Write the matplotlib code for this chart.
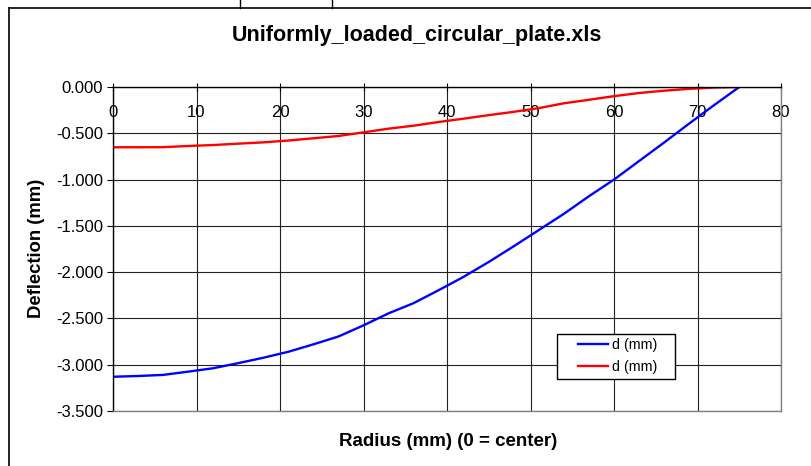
import matplotlib
matplotlib.use("Agg")
import matplotlib.pyplot as plt
from matplotlib.lines import Line2D
from matplotlib.patches import Rectangle

plt.rcParams['font.family'] = ['Liberation Sans', 'DejaVu Sans']

# data (radius in mm, deflection in mm)
radius = [0, 3, 6, 9, 12, 15, 18, 21, 24, 27, 30, 33, 36, 39, 42, 45, 48,
          51, 54, 57, 60, 63, 66, 69, 72, 75]
d_blue = [-3.130, -3.122, -3.110, -3.075, -3.038, -2.983, -2.925, -2.860,
          -2.780, -2.695, -2.575, -2.445, -2.335, -2.195, -2.050, -1.890,
          -1.720, -1.545, -1.370, -1.180, -1.000, -0.800, -0.600, -0.395,
          -0.195, 0.0]
d_red = [-0.651, -0.651, -0.650, -0.637, -0.627, -0.612, -0.598, -0.578,
         -0.554, -0.529, -0.490, -0.450, -0.418, -0.378, -0.342, -0.304,
         -0.268, -0.228, -0.176, -0.138, -0.099, -0.065, -0.040, -0.020,
         -0.006, 0.0]
x_ticks = [0, 10, 20, 30, 40, 50, 60, 70, 80]
y_ticks = [0.0, -0.5, -1.0, -1.5, -2.0, -2.5, -3.0, -3.5]

W, H = 812, 466
fig = plt.figure(figsize=(W / 100, H / 100), dpi=100)
ax = fig.add_axes([113 / W, 1 - 411 / H, (781 - 113) / W, (411 - 87) / H])

ax.plot(radius, d_blue, color='#0000ff', lw=1.7, label='d (mm)')
ax.plot(radius, d_red, color='#ff0000', lw=1.7, label='d (mm)')

ax.set_xlim(0, 80)
ax.set_ylim(-3.5, 0)
ax.set_xticks(x_ticks)
ax.set_yticks(y_ticks)
ax.set_yticklabels(['%.3f' % v for v in y_ticks], fontsize=12)
ax.set_xticklabels([str(v) for v in x_ticks], fontsize=12)

# x axis sits at y = 0 (top), labels just below it
ax.xaxis.set_ticks_position('top')
ax.tick_params(axis='x', direction='inout', length=6, pad=-27, colors='black')
ax.tick_params(axis='y', direction='out', length=4, pad=3)

ax.grid(True, color='#222222', lw=0.8)
ax.set_axisbelow(True)
ax.spines['top'].set_color('black')
ax.spines['left'].set_color('black')
ax.spines['right'].set_color('#808080')
ax.spines['bottom'].set_color('#808080')
for s in ax.spines.values():
    s.set_linewidth(1.0)

fig.text(417 / W, 1 - 36 / H, 'Uniformly_loaded_circular_plate.xls',
         ha='center', va='center', fontsize=15.5, fontweight='bold')
fig.text(448 / W, 1 - 442 / H, 'Radius (mm) (0 = center)',
         ha='center', va='center', fontsize=13.5, fontweight='bold')
fig.text(37 / W, 1 - 248 / H, 'Deflection (mm)', rotation=90,
         ha='center', va='center', fontsize=13.3, fontweight='bold')

# legend box drawn by hand, entries placed inside it
box = Rectangle((557 / W, 1 - 379 / H), (675 - 557) / W, (379 - 334) / H,
                transform=fig.transFigure, facecolor='white', edgecolor='black',
                lw=1.0, zorder=4, clip_on=False)
ax.add_patch(box)
leg = ax.legend(loc='center left', bbox_to_anchor=(578 / W, 1 - 356 / H),
                bbox_transform=fig.transFigure, fontsize=10.3, frameon=False,
                handlelength=2.1, borderpad=0, labelspacing=0.5,
                handletextpad=0.3, borderaxespad=0)
leg.set_zorder(5)

# chart area border and the spreadsheet cell lines above it
fig.add_artist(Line2D([9 / W, 9 / W], [0, 1 - 8 / H], transform=fig.transFigure,
                      color='black', lw=1.2))
fig.add_artist(Line2D([9 / W, 1], [1 - 8 / H, 1 - 8 / H], transform=fig.transFigure,
                      color='black', lw=1.2))
for px in [240, 332]:
    fig.add_artist(Line2D([px / W, px / W], [1 - 8 / H, 1], transform=fig.transFigure,
                          color='black', lw=1.0))

fig.savefig('out.png', dpi=100)
